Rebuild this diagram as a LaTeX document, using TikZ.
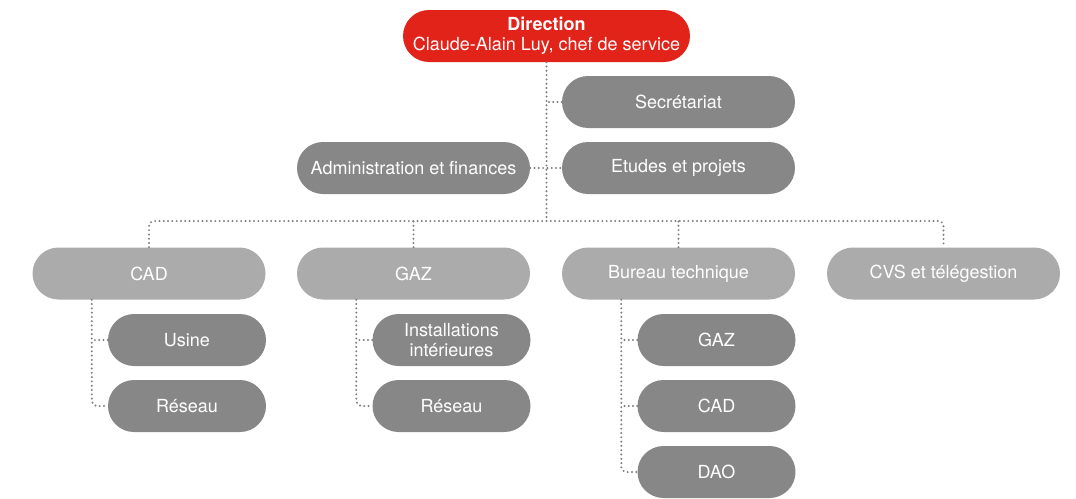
\documentclass[tikz,border=0pt]{standalone}
\usepackage{fontspec}
\setsansfont{TeX Gyre Heros}
\usetikzlibrary{calc}
\definecolor{rouge}{HTML}{E2231A}
\definecolor{grisfonce}{HTML}{878787}
\definecolor{grisclair}{HTML}{ABABAB}
\definecolor{pointille}{HTML}{7E7E7E}
\tikzset{
  unite/.style={rectangle, rounded corners=26pt, minimum width=233pt, minimum height=52pt,
    inner sep=0pt, text=white, align=center, font=\sffamily\fontsize{18}{20}\selectfont},
  direction/.style={unite, fill=rouge, minimum width=287pt},
  service/.style={unite, fill=grisfonce},
  division/.style={unite, fill=grisclair},
  section/.style={unite, fill=grisfonce, minimum width=158pt},
  link/.style={draw=pointille, line width=2.2pt, line cap=round,
    dash pattern=on 0pt off 4.3pt, rounded corners=5pt}
}

\begin{document}
\begin{tikzpicture}[x=1pt, y=-1pt]
  \useasboundingbox (0,0) rectangle (1076,498);
  % direction et services
  \node[direction] (dir) at (546.5,36) {\textbf{Direction}\\Claude-Alain Luy, chef de service};
  \node[service] (sec) at (678.5,102) {Secrétariat};
  \node[service] (etu) at (678.5,168) {Etudes et projets};
  \node[service] (adm) at (413.5,168) {Administration et finances};
  \coordinate (bus) at (546.5,221);
  % divisions
  \node[division] (cad) at (149,273.5) {CAD};
  \node[division] (gaz) at (413.5,273.5) {GAZ};
  \node[division] (bur) at (678.5,273.5) {Bureau technique};
  \node[division] (cvs) at (943.5,273.5) {CVS et télégestion};
  % sections
  \node[section] (cad-usi) at (187,340) {Usine};
  \node[section] (cad-res) at (187,406) {Réseau};
  \node[section] (gaz-ins) at (451.5,340) {Installations\\intérieures};
  \node[section] (gaz-res) at (451.5,406) {Réseau};
  \node[section] (bur-gaz) at (716.5,340) {GAZ};
  \node[section] (bur-cad) at (716.5,406) {CAD};
  \node[section] (bur-dao) at (716.5,472) {DAO};
  % liaisons
  \draw[link] (dir.south) -- (bus);
  \draw[link] (sec.west) -- (sec.west -| bus);
  \draw[link] (adm.east) -- (etu.west);
  \draw[link] (cad.north) |- (bus) -| (cvs.north);
  \draw[link] (gaz.north) -- (gaz.north |- bus);
  \draw[link] (bur.north) -- (bur.north |- bus);
  \draw[link] (cad.south -| cad-usi.west) ++(-16pt,0) |- (cad-res.west);
  \draw[link] (cad-usi.west) -- ++(-16pt,0);
  \draw[link] (gaz.south -| gaz-ins.west) ++(-16pt,0) |- (gaz-res.west);
  \draw[link] (gaz-ins.west) -- ++(-16pt,0);
  \draw[link] (bur.south -| bur-gaz.west) ++(-16pt,0) |- (bur-dao.west);
  \draw[link] (bur-gaz.west) -- ++(-16pt,0);
  \draw[link] (bur-cad.west) -- ++(-16pt,0);
\end{tikzpicture}
\end{document}
